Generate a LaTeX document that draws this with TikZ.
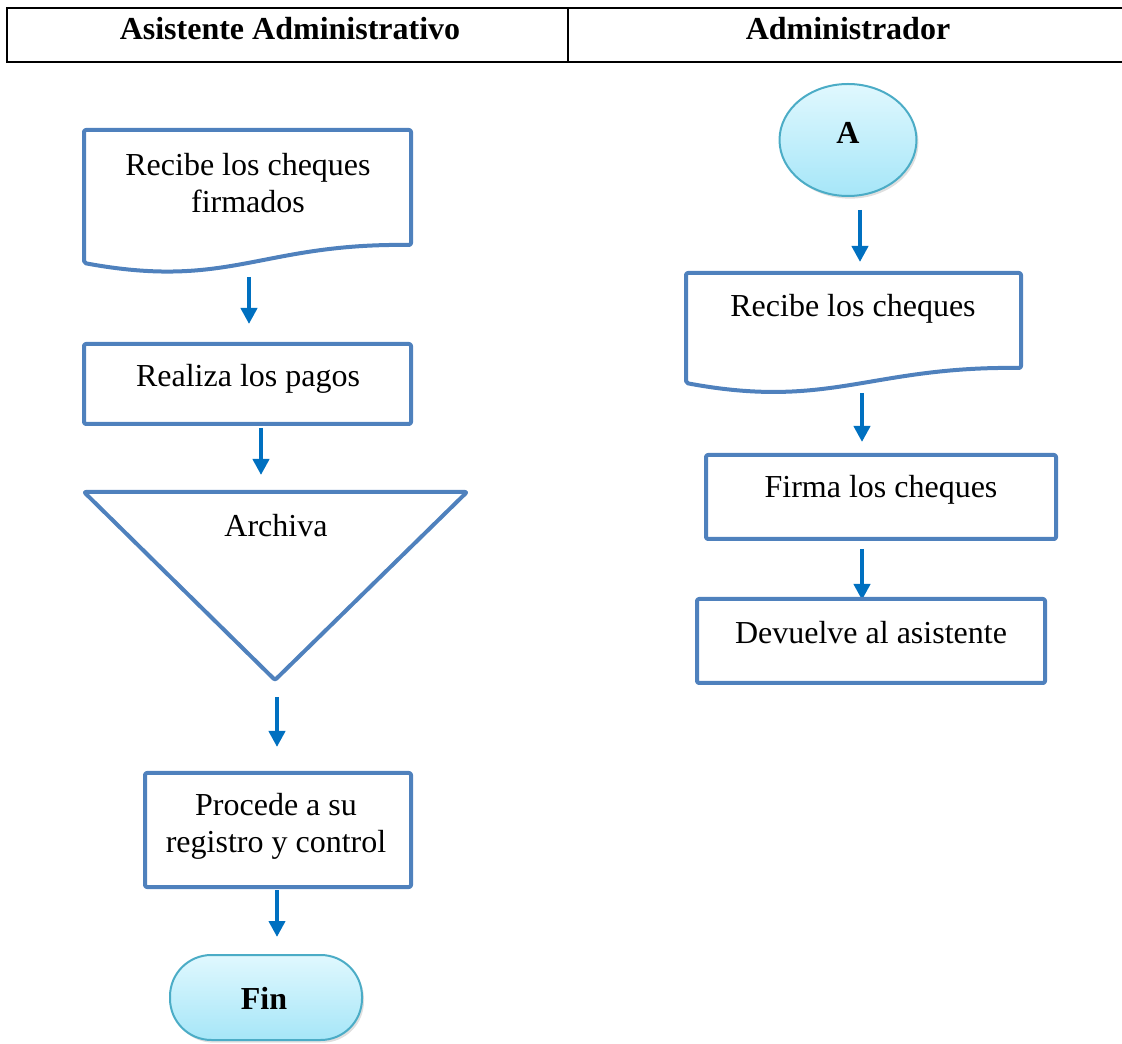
\documentclass[tikz,border=0pt]{standalone}
\usepackage{fontspec}
\setmainfont{Liberation Serif}
\usetikzlibrary{arrows.meta,shapes.geometric,shadows}
\definecolor{boxblue}{HTML}{4F81BD}
\definecolor{arrowblue}{HTML}{0070C0}
\definecolor{termedge}{HTML}{4BACC6}
\definecolor{termtop}{HTML}{E0F8FE}
\definecolor{termbot}{HTML}{A6E6F8}
\tikzset{
  boxline/.style={draw=boxblue, line width=3pt, rounded corners=1.5pt, line join=round},
  flowarrow/.style={draw=arrowblue, line width=3pt, -{Triangle[width=12pt,length=12pt]}},
  txt/.style={inner sep=0pt, align=center, font=\fontsize{24}{27.75}\selectfont},
  btxt/.style={inner sep=0pt, align=center, font=\fontsize{24}{27.75}\selectfont\bfseries},
  termshape/.style={draw=termedge, line width=1.5pt, top color=termtop, bottom color=termbot,
     drop shadow={opacity=0.25, shadow xshift=1.5pt, shadow yshift=-2pt}},
  hdrline/.style={draw=black, line width=1.6pt}
}
\begin{document}
\begin{tikzpicture}[x=0.75pt,y=-0.75pt]
\useasboundingbox (0,0) rectangle (1122,1044);
% header
\draw[hdrline] (1122,8) -- (7,8) -- (7,62) -- (1122,62);
\draw[hdrline] (568,8) -- (568,62);
\node[btxt] (h1) at (290,29) {Asistente Administrativo};
\node[btxt] (h2) at (848,29) {Administrador};

% left column
\draw[boxline] (84,130) -- (411,130) -- (411,245)
   .. controls (260,243) and (230,290) .. (84,263) -- cycle;
\node[txt] (d1) at (248,183) {Recibe los cheques\\firmados};
\coordinate (a1s) at (249,277);
\coordinate (a1e) at (249,324);
\draw[flowarrow] (a1s) -- (a1e);

\draw[boxline] (84,344) rectangle (411,424);
\node[txt] (p1) at (248,379) {Realiza los pagos};
\coordinate (a2s) at (261,428);
\coordinate (a2e) at (261,475);
\draw[flowarrow] (a2s) -- (a2e);

\draw[boxline] (84,492) -- (467,492) -- (275,680) -- cycle;
\node[txt] (t1) at (276,526) {Archiva};
\coordinate (a3s) at (277,697);
\coordinate (a3e) at (277,747);
\draw[flowarrow] (a3s) -- (a3e);

\draw[boxline] (145,773) rectangle (411,887);
\node[txt] (p2) at (276,826) {Procede a su\\registro y control};
\coordinate (a4s) at (277,890);
\coordinate (a4e) at (277,937);
\draw[flowarrow] (a4s) -- (a4e);

\draw[termshape, rounded corners=31pt] (170,955) rectangle (362,1040);
\node[btxt] (fin) at (264,998) {Fin};

% right column
\node[ellipse, termshape, minimum width=102.75pt, minimum height=84pt, inner sep=0pt] (ea) at (848,140) {};
\node[btxt] (atxt) at (848,133) {A};
\coordinate (b1s) at (860,210);
\coordinate (b1e) at (860,262);
\draw[flowarrow] (b1s) -- (b1e);

\draw[boxline] (686,273) -- (1021,273) -- (1021,368)
   .. controls (870,366) and (830,410) .. (686,383) -- cycle;
\node[txt] (d2) at (853,309) {Recibe los cheques};
\coordinate (b2s) at (862,393);
\coordinate (b2e) at (862,442);
\draw[flowarrow] (b2s) -- (b2e);

\draw[boxline] (706,455) rectangle (1056,539);
\node[txt] (p3) at (881,490) {Firma los cheques};
\coordinate (b3s) at (862,549);
\coordinate (b3e) at (862,600);
\draw[flowarrow] (b3s) -- (b3e);

\draw[boxline] (697,599) rectangle (1045,683);
\node[txt] (p4) at (871,633) {Devuelve al asistente};
\end{tikzpicture}
\end{document}
